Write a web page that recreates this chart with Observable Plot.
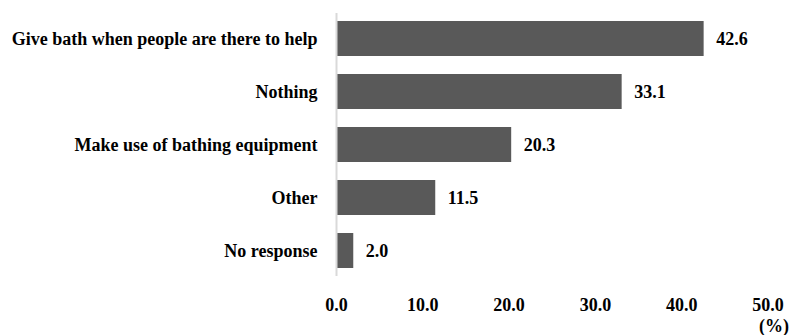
<!DOCTYPE html>
<html>
<head>
<meta charset="utf-8">
<script src="https://cdn.jsdelivr.net/npm/d3@7"></script>
<script src="https://cdn.jsdelivr.net/npm/@observablehq/plot@0.6"></script>
<style>
  body { margin: 0; background: #fff; }
  svg { font-family: "Liberation Serif", "Times New Roman", serif; }
</style>
</head>
<body>
<div id="chart"></div>
<script>
// Responses, in percent
const responses = [
  "Give bath when people are there to help",
  "Nothing",
  "Make use of bathing equipment",
  "Other",
  "No response"
];
const shares = [42.6, 33.1, 20.3, 11.5, 2.0];
const xTicks = [0, 10, 20, 30, 40, 50];

const rows = responses.map((response, i) => ({response, share: shares[i]}));
const FONT = "'Liberation Serif', 'Times New Roman', serif";

const chart = Plot.plot({
  width: 795,
  height: 335,
  marginLeft: 336,
  marginRight: 27.5,
  marginTop: 13,
  marginBottom: 59,
  style: {fontFamily: FONT, fontWeight: "bold", fontSize: "18px", color: "#000"},
  x: {domain: [0, 50]},
  y: {domain: responses, paddingInner: 0.34, paddingOuter: 0.15},
  marks: [
    Plot.barX(rows, {x: "share", y: "response", fill: "#595959"}),
    Plot.ruleX([0], {stroke: "#d9d9d9", strokeWidth: 2}),
    Plot.text(rows, {
      x: "share", y: "response", text: d => d.share.toFixed(1),
      textAnchor: "start", dx: 12, fill: "#000",
      fontFamily: FONT, fontSize: 18, fontWeight: "bold"
    }),
    Plot.axisY({tickSize: 0, tickPadding: 19, label: null, fontFamily: FONT, fontSize: 18, fontWeight: "bold"}),
    Plot.axisX({
      ticks: xTicks, tickFormat: d3.format(".1f"),
      tickSize: 0, tickPadding: 22, label: null, fontFamily: FONT, fontSize: 18, fontWeight: "bold"
    }),
    // unit note under the last tick
    Plot.text(["(%)"], {
      frameAnchor: "bottom-right", dx: 21, dy: 50, textAnchor: "end",
      lineAnchor: "middle", fill: "#000", fontFamily: FONT, fontSize: 18, fontWeight: "bold"
    })
  ]
});

document.getElementById("chart").append(chart);
</script>
</body>
</html>
